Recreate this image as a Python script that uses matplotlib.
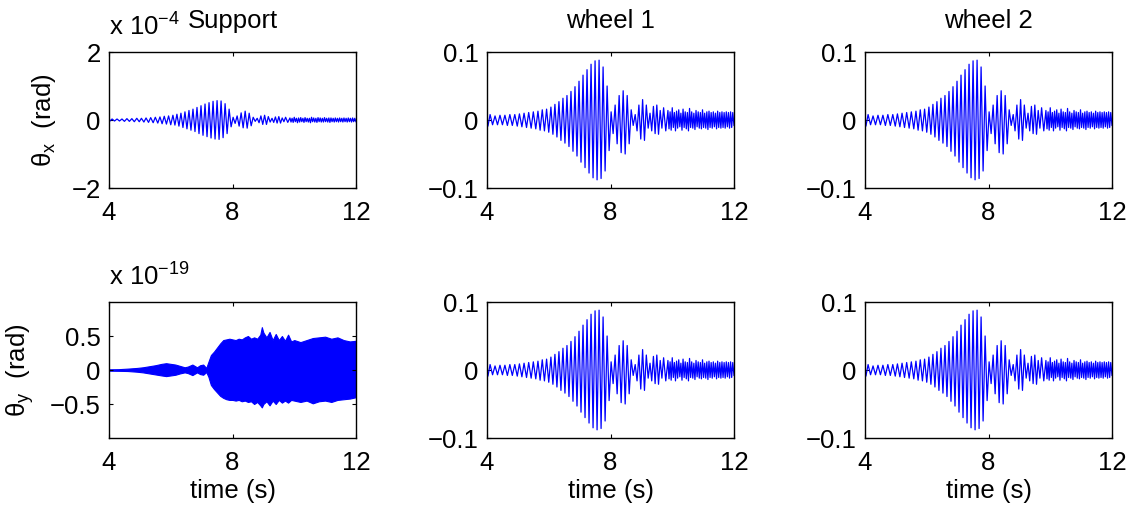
import numpy as np
import matplotlib
matplotlib.use("Agg")
import matplotlib.pyplot as plt

plt.rcParams["font.family"] = ["Liberation Sans", "DejaVu Sans"]
plt.rcParams["mathtext.fontset"] = "custom"
plt.rcParams["mathtext.rm"] = "Liberation Sans"
plt.rcParams["mathtext.it"] = "Liberation Sans"
plt.rcParams["axes.unicode_minus"] = True

# ---------------------------------------------------------------- time axis
x_limits = (4, 12)
x_ticks = [4, 8, 12]

# --------------------------------------------- wheel rotation (rad), extrema
# start / end samples
wheel_start = (4.0, 0.0)
wheel_end = (12.0, -0.008)

wheel_trough_t = [
    4.03, 4.18, 4.34, 4.50, 4.66, 4.82, 4.98, 5.13, 5.28, 5.43, 5.58, 5.72, 5.86, 6.00,
    6.135, 6.265, 6.395, 6.525, 6.655, 6.785, 6.915, 7.045, 7.175, 7.305, 7.435, 7.565,
    7.695, 7.825, 7.955,
    8.085, 8.215, 8.345, 8.475, 8.605,
    8.735, 8.86, 8.98, 9.10,
    9.22, 9.335, 9.445, 9.555, 9.665,
    9.79, 9.895, 9.965, 10.035, 10.105, 10.175, 10.245, 10.315, 10.385, 10.455, 10.525,
    10.595, 10.665, 10.735, 10.805, 10.875, 10.945, 11.015, 11.085, 11.155, 11.225,
    11.295, 11.365, 11.435, 11.505, 11.575, 11.645, 11.715, 11.785, 11.855, 11.925,
]
wheel_trough_v = [
    -0.009, -0.007, -0.007, -0.007, -0.008, -0.008, -0.009, -0.010, -0.011, -0.012,
    -0.013, -0.015, -0.016, -0.018,
    -0.021, -0.025, -0.030, -0.034, -0.039, -0.046, -0.053, -0.062, -0.070, -0.078,
    -0.085, -0.088, -0.086, -0.075, -0.045,
    -0.020, -0.035, -0.048, -0.050, -0.035,
    -0.008, -0.016, -0.028, -0.030,
    -0.012, -0.016, -0.020, -0.021, -0.012,
    -0.016, -0.013, -0.015, -0.011, -0.016, -0.012, -0.010, -0.015, -0.011, -0.013,
    -0.016, -0.011, -0.012, -0.014, -0.010, -0.012, -0.013, -0.011, -0.012, -0.014,
    -0.011, -0.012, -0.010, -0.013, -0.011, -0.012, -0.011, -0.012, -0.010, -0.012,
    -0.011,
]
wheel_peak_t = [
    4.10, 4.26, 4.42, 4.58, 4.74, 4.90, 5.05, 5.20, 5.35, 5.50, 5.65, 5.79, 5.93, 6.07,
    6.20, 6.33, 6.46, 6.59, 6.72, 6.85, 6.98, 7.11, 7.24, 7.37, 7.50, 7.63, 7.76, 7.89,
    8.02,
    8.15, 8.28, 8.41, 8.54, 8.67,
    8.80, 8.92, 9.04, 9.16,
    9.28, 9.39, 9.50, 9.61, 9.72,
    9.86, 9.93, 10.00, 10.07, 10.14, 10.21, 10.28, 10.35, 10.42, 10.49, 10.56, 10.63,
    10.70, 10.77, 10.84, 10.91, 10.98, 11.05, 11.12, 11.19, 11.26, 11.33, 11.40, 11.47,
    11.54, 11.61, 11.68, 11.75, 11.82, 11.89, 11.96,
]
wheel_peak_v = [
    0.008, 0.006, 0.007, 0.007, 0.008, 0.008, 0.009, 0.010, 0.011, 0.012, 0.013, 0.015,
    0.016, 0.019,
    0.023, 0.027, 0.032, 0.036, 0.042, 0.049, 0.057, 0.066, 0.074, 0.082, 0.087, 0.088,
    0.078, 0.050, 0.012,
    0.022, 0.036, 0.043, 0.036, 0.015,
    0.008, 0.022, 0.030, 0.022,
    0.010, 0.020, 0.022, 0.014, 0.018,
    0.014, 0.012, 0.018, 0.011, 0.013, 0.015, 0.010, 0.016, 0.012, 0.011, 0.017, 0.012,
    0.010, 0.014, 0.012, 0.011, 0.015, 0.010, 0.012, 0.013, 0.011, 0.012, 0.010, 0.013,
    0.011, 0.012, 0.011, 0.012, 0.011, 0.012, 0.011,
]

# ------------------------------- support rotation about x (x 1e-4 rad), extrema
support_x_start = (4.0, 0.0)
support_x_end = (12.0, -0.05)
support_x_trough_v = [
    -0.03, -0.03, -0.03, -0.04, -0.04, -0.05, -0.05, -0.06, -0.07, -0.08, -0.09, -0.11,
    -0.12, -0.14,
    -0.15, -0.18, -0.22, -0.26, -0.30, -0.34, -0.40, -0.45, -0.49, -0.53, -0.56, -0.57,
    -0.52, -0.40, -0.20,
    -0.10, -0.18, -0.23, -0.24, -0.17,
    -0.04, -0.08, -0.13, -0.13,
    -0.06, -0.07, -0.09, -0.09, -0.05,
    -0.07, -0.06, -0.07, -0.05, -0.08, -0.06, -0.05, -0.07, -0.05, -0.06, -0.08, -0.05,
    -0.06, -0.07, -0.05, -0.06, -0.06, -0.05, -0.06, -0.07, -0.05, -0.06, -0.05, -0.06,
    -0.05, -0.06, -0.05, -0.06, -0.05, -0.06, -0.05,
]
support_x_peak_v = [
    0.03, 0.03, 0.03, 0.04, 0.04, 0.05, 0.05, 0.06, 0.07, 0.08, 0.09, 0.11, 0.12, 0.14,
    0.17, 0.20, 0.24, 0.28, 0.32, 0.37, 0.42, 0.47, 0.51, 0.55, 0.57, 0.56, 0.48, 0.32,
    0.08,
    0.12, 0.21, 0.26, 0.20, 0.08,
    0.05, 0.12, 0.14, 0.10,
    0.05, 0.09, 0.10, 0.06, 0.08,
    0.06, 0.05, 0.08, 0.05, 0.06, 0.07, 0.05, 0.07, 0.05, 0.05, 0.08, 0.06, 0.05, 0.07,
    0.06, 0.05, 0.07, 0.05, 0.06, 0.06, 0.05, 0.06, 0.05, 0.06, 0.05, 0.06, 0.05, 0.06,
    0.05, 0.06, 0.05,
]

# ------------------- support rotation about y (x 1e-19 rad), response envelope
support_y_t = [
    4.0, 4.3, 4.6, 4.9, 5.1, 5.3, 5.5, 5.7, 5.85, 6.0, 6.15, 6.3, 6.45, 6.55, 6.7, 6.85,
    6.95, 7.05, 7.15, 7.22, 7.3, 7.4, 7.5, 7.6, 7.7, 7.8, 7.9, 8.0, 8.1, 8.2, 8.3, 8.4,
    8.5, 8.6, 8.7, 8.8, 8.9, 8.95, 9.0, 9.1, 9.2, 9.3, 9.4, 9.5, 9.6, 9.7, 9.8, 9.9,
    10.0, 10.2, 10.4, 10.6, 10.8, 11.0, 11.2, 11.4, 11.6, 11.8, 12.0,
]
support_y_upper = [
    0.01, 0.012, 0.02, 0.03, 0.04, 0.055, 0.07, 0.09, 0.10, 0.09, 0.08, 0.06, 0.04,
    0.05, 0.08, 0.04, 0.07, 0.08, 0.03, 0.12, 0.22, 0.27, 0.33, 0.39, 0.44, 0.45, 0.46,
    0.45, 0.44, 0.46, 0.45, 0.48, 0.50, 0.46, 0.48, 0.46, 0.52, 0.63, 0.55, 0.48, 0.56,
    0.44, 0.53, 0.44, 0.50, 0.43, 0.52, 0.42, 0.44, 0.41, 0.44, 0.47, 0.48, 0.49, 0.46,
    0.48, 0.44, 0.42, 0.43,
]
support_y_lower = [
    -0.01, -0.012, -0.015, -0.025, -0.035, -0.05, -0.065, -0.08, -0.09, -0.08, -0.07,
    -0.05, -0.035, -0.045, -0.075, -0.035, -0.06, -0.07, -0.03, -0.10, -0.22, -0.28,
    -0.33, -0.38, -0.41, -0.43, -0.44, -0.44, -0.45, -0.44, -0.46, -0.45, -0.47, -0.46,
    -0.50, -0.47, -0.52, -0.55, -0.50, -0.46, -0.52, -0.45, -0.50, -0.44, -0.48, -0.45,
    -0.48, -0.44, -0.45, -0.47, -0.45, -0.49, -0.46, -0.45, -0.47, -0.44, -0.43, -0.42,
    -0.40,
]

titles = ["Support", "wheel 1", "wheel 2"]
row_labels = [r"$\mathregular{\theta_x}$  (rad)", r"$\mathregular{\theta_y}$  (rad)"]
x_label = "time (s)"
scale_labels = [r"x 10$^{\mathregular{-4}}$", r"x 10$^{\mathregular{-19}}$"]


def zigzag(start, trough_t, trough_v, peak_t, peak_v, end):
    """Join alternating trough / peak samples into one trace."""
    t = [start[0]]
    v = [start[1]]
    for tt, tv, pt, pv in zip(trough_t, trough_v, peak_t, peak_v):
        t += [tt, pt]
        v += [tv, pv]
    t.append(end[0])
    v.append(end[1])
    return np.array(t), np.array(v)


wheel_t, wheel_v = zigzag(wheel_start, wheel_trough_t, wheel_trough_v,
                          wheel_peak_t, wheel_peak_v, wheel_end)
sx_t, sx_v = zigzag(support_x_start, wheel_trough_t, support_x_trough_v,
                    wheel_peak_t, support_x_peak_v, support_x_end)

W, H = 1132, 512
fig = plt.figure(figsize=(W / 100, H / 100), dpi=100)

col_left = [109, 487, 865]
row_top = [52, 302]
ax_w, ax_h = 247, 136

FS = 18.5
BLUE = "#0000ff"

axes = {}
for r in range(2):
    for c in range(3):
        rect = [col_left[c] / W, 1 - (row_top[r] + ax_h) / H, ax_w / W, ax_h / H]
        ax = fig.add_axes(rect)
        axes[(r, c)] = ax
        ax.set_xlim(*x_limits)
        ax.set_xticks(x_ticks)
        ax.tick_params(direction="in", top=True, right=True, length=3, width=0.8,
                       labelsize=FS)
        ax.tick_params(axis="x", pad=9)
        ax.tick_params(axis="y", pad=6)
        for s in ax.spines.values():
            s.set_linewidth(1.0)

# top-left: support theta_x
ax = axes[(0, 0)]
ax.plot(sx_t, sx_v, color=BLUE, lw=0.9)
ax.set_ylim(-2, 2)
ax.set_yticks([-2, 0, 2])
ax.set_yticklabels(["\u22122", "0", "2"])
ax.set_ylabel(row_labels[0], fontsize=FS, labelpad=10)
ax.set_title(titles[0], fontsize=FS, pad=17)

# bottom-left: support theta_y
ax = axes[(1, 0)]
ax.fill_between(support_y_t, support_y_lower, support_y_upper, color=BLUE, lw=0.8,
                edgecolor=BLUE)
ax.set_ylim(-1, 1)
ax.set_yticks([-0.5, 0, 0.5])
ax.set_yticklabels(["\u22120.5", "0", "0.5"])
ax.set_ylabel(row_labels[1], fontsize=FS, labelpad=10)

for r in range(2):
    axes[(r, 0)].annotate(scale_labels[r], xy=(0, 1), xycoords="axes fraction",
                          xytext=(0, 8), textcoords="offset points",
                          fontsize=FS, ha="left", va="bottom")

# wheel panels
for r in range(2):
    for c in (1, 2):
        ax = axes[(r, c)]
        ax.plot(wheel_t, wheel_v, color=BLUE, lw=0.9)
        ax.set_ylim(-0.1, 0.1)
        ax.set_yticks([-0.1, 0, 0.1])
        ax.set_yticklabels(["\u22120.1", "0", "0.1"])
        if r == 0:
            ax.set_title(titles[c], fontsize=FS, pad=17)

for c in range(3):
    axes[(1, c)].set_xlabel(x_label, fontsize=FS, labelpad=3)

fig.savefig("out.png", dpi=100)
